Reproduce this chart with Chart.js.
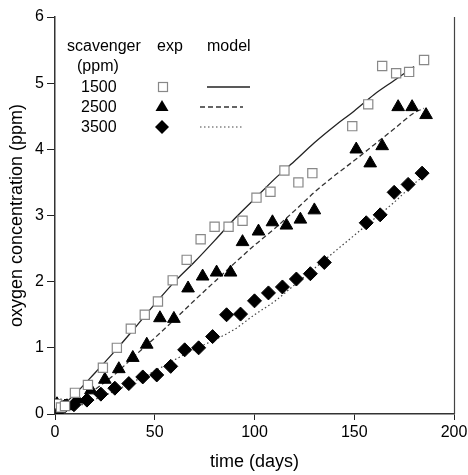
<!DOCTYPE html>
<html>
<head>
<meta charset="utf-8">
<script src="https://cdn.jsdelivr.net/npm/chart.js@4.4.1/dist/chart.umd.min.js"></script>
<style>
  html, body { margin: 0; padding: 0; background: #fff; }
  #wrap { width: 468px; height: 475px; }
</style>
</head>
<body>
<div id="wrap"><canvas id="chart"></canvas></div>
<script>
  // ---- Data ----
  const xTicks = [0, 50, 100, 150, 200];
  const yTicks = [0, 1, 2, 3, 4, 5, 6];

  // 1500 ppm, exp (open squares)
  const days1500 = [1, 3, 5, 10, 16.5, 24, 31, 38, 45, 51.6, 59, 66, 73, 80, 87, 94, 101, 108, 115, 122, 129, 149, 157, 164, 171, 177.5, 185];
  const exp1500 = [0.15, 0.1, 0.12, 0.32, 0.44, 0.70, 1.0, 1.29, 1.5, 1.70, 2.02, 2.33, 2.64, 2.83, 2.83, 2.92, 3.27, 3.36, 3.68, 3.5, 3.64, 4.35, 4.68, 5.26, 5.15, 5.17, 5.35];

  // 2500 ppm, exp (filled triangles)
  const days2500 = [1, 3, 6, 11, 18, 25, 32, 39, 46, 52.6, 59.6, 66.7, 74, 81, 88, 94, 102, 109, 116, 123, 130, 151, 158, 164, 172, 179, 186];
  const exp2500 = [0.15, 0.12, 0.12, 0.22, 0.36, 0.52, 0.68, 0.85, 1.05, 1.45, 1.44, 1.9, 2.08, 2.14, 2.14, 2.6, 2.76, 2.9, 2.85, 2.94, 3.08, 4.0, 3.79, 4.05, 4.64, 4.64, 4.52];

  // 3500 ppm, exp (filled diamonds)
  const days3500 = [1, 3, 5, 9.5, 16, 23, 30, 37, 44, 51, 58, 65, 72, 79, 86, 93, 100, 107, 114, 121, 128, 135, 156, 163, 170, 177, 184];
  const exp3500 = [0.1, 0.08, 0.12, 0.14, 0.21, 0.30, 0.39, 0.46, 0.56, 0.59, 0.72, 0.97, 1.0, 1.17, 1.5, 1.51, 1.71, 1.83, 1.92, 2.04, 2.12, 2.29, 2.89, 3.01, 3.35, 3.47, 3.64];

  // model curves
  const modelDays = [0, 10, 20, 30, 40, 50, 60, 70, 80, 90, 100, 110, 120, 130, 140, 150, 160, 170, 180, 185];
  const model1500 = [0.03, 0.3, 0.62, 0.95, 1.3, 1.66, 2.0, 2.3, 2.62, 2.95, 3.25, 3.55, 3.82, 4.1, 4.35, 4.58, 4.83, 5.04, 5.25, null];
  const model2500 = [0.0, 0.15, 0.37, 0.6, 0.88, 1.15, 1.43, 1.72, 2.0, 2.28, 2.55, 2.8, 3.07, 3.35, 3.6, 3.83, 4.07, 4.31, 4.55, 4.62];
  const model3500 = [0.0, 0.1, 0.22, 0.35, 0.5, 0.65, 0.82, 0.98, 1.12, 1.28, 1.5, 1.7, 1.95, 2.2, 2.45, 2.7, 2.95, 3.2, 3.48, 3.6];

  const legendRows = ['1500', '2500', '3500'];

  function pairs(xs, ys) {
    return xs.map((x, i) => ({ x: x, y: ys[i] })).filter(p => p.y !== null);
  }

  const FONT = '"Liberation Sans", Arial, sans-serif';

  // ---- Plugins: right frame line and the text legend ----
  const framePlugin = {
    id: 'frame',
    afterDraw(chart) {
      const { ctx, chartArea } = chart;
      ctx.save();
      ctx.strokeStyle = '#444';
      ctx.lineWidth = 1.2;
      ctx.beginPath();
      ctx.moveTo(chartArea.right + 0.5, chartArea.top);
      ctx.lineTo(chartArea.right + 0.5, chartArea.bottom);
      ctx.stroke();
      ctx.restore();
    }
  };

  const legendPlugin = {
    id: 'textLegend',
    afterDraw(chart) {
      const ctx = chart.ctx;
      ctx.save();
      ctx.fillStyle = '#000';
      ctx.font = '16px ' + FONT;
      ctx.textBaseline = 'middle';
      ctx.textAlign = 'left';
      ctx.fillText('scavenger', 67, 47);
      ctx.fillText('exp', 157, 47);
      ctx.fillText('model', 207, 47);
      ctx.fillText('(ppm)', 77, 67);
      const rowY = [87, 107, 127];
      legendRows.forEach((label, i) => ctx.fillText(label, 81, rowY[i] + 1));

      // square
      ctx.strokeStyle = '#888';
      ctx.lineWidth = 1.2;
      ctx.strokeRect(158.5, rowY[0] - 4.5, 9, 9);
      // triangle
      ctx.fillStyle = '#000';
      ctx.beginPath();
      ctx.moveTo(162, rowY[1] - 7);
      ctx.lineTo(168.5, rowY[1] + 4);
      ctx.lineTo(155.5, rowY[1] + 4);
      ctx.closePath();
      ctx.fill();
      // diamond
      ctx.beginPath();
      ctx.moveTo(162, rowY[2] - 7);
      ctx.lineTo(169, rowY[2]);
      ctx.lineTo(162, rowY[2] + 7);
      ctx.lineTo(155, rowY[2]);
      ctx.closePath();
      ctx.fill();

      // line samples
      const styles = [
        { dash: [], color: '#222', w: 1.3, x0: 207, x1: 250 },
        { dash: [5, 3], color: '#333', w: 1.3, x0: 200, x1: 243 },
        { dash: [1.5, 2.5], color: '#444', w: 1.2, x0: 200, x1: 243 }
      ];
      styles.forEach((s, i) => {
        ctx.strokeStyle = s.color;
        ctx.lineWidth = s.w;
        ctx.setLineDash(s.dash);
        ctx.beginPath();
        ctx.moveTo(s.x0, rowY[i]);
        ctx.lineTo(s.x1, rowY[i]);
        ctx.stroke();
      });
      ctx.restore();
    }
  };

  const tickFont = { family: FONT, size: 16 };
  const titleFont = { family: FONT, size: 18 };

  new Chart(document.getElementById('chart'), {
    type: 'scatter',
    data: {
      datasets: [
        {
          label: '1500 model', type: 'line', data: pairs(modelDays, model1500),
          borderColor: '#222', borderWidth: 1.3, pointRadius: 0, fill: false,
          cubicInterpolationMode: 'monotone', order: 2
        },
        {
          label: '2500 model', type: 'line', data: pairs(modelDays, model2500),
          borderColor: '#333', borderWidth: 1.3, borderDash: [5, 3], pointRadius: 0, fill: false,
          cubicInterpolationMode: 'monotone', order: 2
        },
        {
          label: '3500 model', type: 'line', data: pairs(modelDays, model3500),
          borderColor: '#444', borderWidth: 1.2, borderDash: [1.5, 2.5], pointRadius: 0, fill: false,
          cubicInterpolationMode: 'monotone', order: 2
        },
        {
          label: '1500 exp', data: pairs(days1500, exp1500),
          pointStyle: 'rect', pointRadius: 6.5, pointBorderColor: '#888', pointBackgroundColor: '#fff',
          pointBorderWidth: 1.2, order: 1
        },
        {
          label: '2500 exp', data: pairs(days2500, exp2500),
          pointStyle: 'triangle', pointRadius: 7.3, pointBorderColor: '#000', pointBackgroundColor: '#000',
          pointBorderWidth: 1, order: 1
        },
        {
          label: '3500 exp', data: pairs(days3500, exp3500),
          pointStyle: 'rectRot', pointRadius: 7, pointBorderColor: '#000', pointBackgroundColor: '#000',
          pointBorderWidth: 1, order: 1
        }
      ]
    },
    options: {
      responsive: true,
      maintainAspectRatio: false,
      animation: false,
      layout: { padding: { top: 17, right: 14, bottom: 2, left: 6 } },
      plugins: { legend: { display: false }, tooltip: { enabled: false } },
      scales: {
        x: {
          type: 'linear', min: 0, max: 200,
          afterBuildTicks: s => { s.ticks = xTicks.map(v => ({ value: v })); },
          afterFit: s => { s.height = 59; s.paddingRight = 0; s.paddingLeft = 0; },
          grid: { display: true, drawOnChartArea: false, drawTicks: true, tickLength: 6, color: '#222', lineWidth: 1 },
          border: { display: true, color: '#333', width: 1.5 },
          ticks: { color: '#000', font: tickFont, padding: 3, maxRotation: 0 },
          title: { display: true, text: 'time (days)', color: '#000', font: titleFont, padding: { top: 4, bottom: 0 } }
        },
        y: {
          type: 'linear', min: 0, max: 6,
          afterBuildTicks: s => { s.ticks = yTicks.map(v => ({ value: v })); },
          afterFit: s => { s.width = 49; },
          grid: { display: true, drawOnChartArea: false, drawTicks: true, tickLength: 8, color: '#222', lineWidth: 1 },
          border: { display: true, color: '#333', width: 1.5 },
          ticks: { color: '#000', font: tickFont, padding: 3 },
          title: { display: true, text: 'oxygen concentration (ppm)', color: '#000', font: titleFont, padding: { top: 0, bottom: 2 } }
        }
      }
    },
    plugins: [framePlugin, legendPlugin]
  });
</script>
</body>
</html>
